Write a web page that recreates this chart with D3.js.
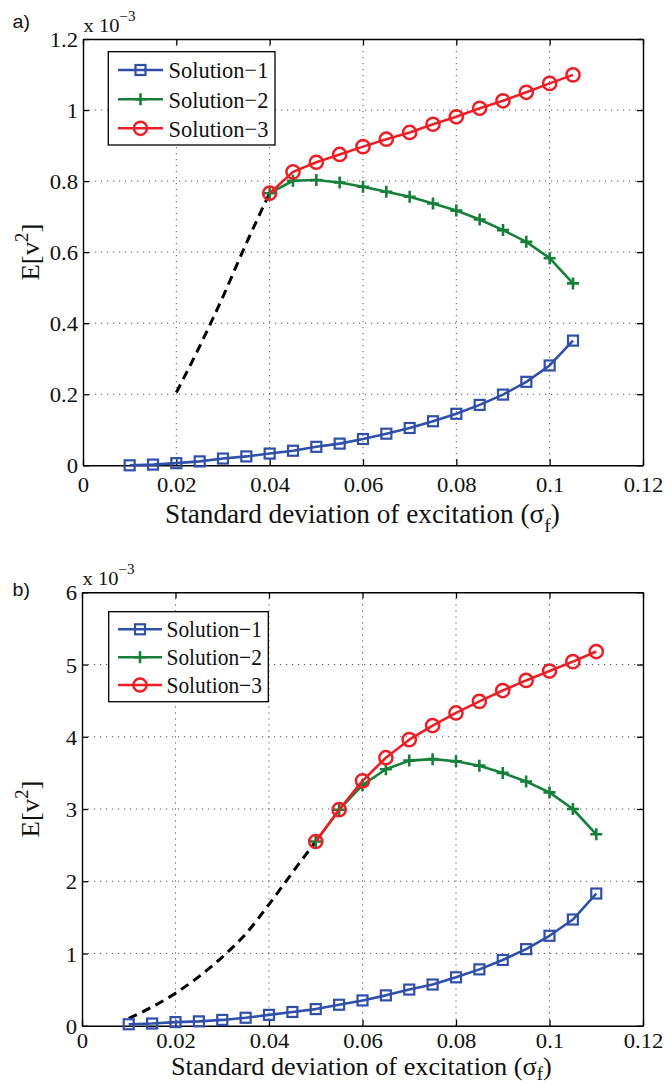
<!DOCTYPE html>
<html>
<head>
<meta charset="utf-8">
<script src="https://cdn.jsdelivr.net/npm/d3@7"></script>
<style>
  html, body { margin: 0; padding: 0; background: #fff; }
  svg { display: block; }
</style>
</head>
<body>
<svg id="fig" width="666" height="1086"></svg>
<script>
// E[v^2] values are in units of 1e-3 (shown as "x 10^-3" above each y axis).

// ---------- panel a ----------
const sigmaA1 = [0.01, 0.015, 0.02, 0.025, 0.03, 0.035, 0.04, 0.045, 0.05, 0.055,
                 0.06, 0.065, 0.07, 0.075, 0.08, 0.085, 0.09, 0.095, 0.1, 0.105];
const evA1    = [0.000, 0.002, 0.006, 0.011, 0.019, 0.025, 0.033, 0.041, 0.052, 0.061,
                 0.074, 0.089, 0.105, 0.124, 0.145, 0.170, 0.199, 0.235, 0.281, 0.351];

const sigmaA23 = [0.04, 0.045, 0.05, 0.055, 0.06, 0.065, 0.07, 0.075, 0.08, 0.085,
                  0.09, 0.095, 0.1, 0.105];
const evA2     = [0.766, 0.801, 0.803, 0.796, 0.784, 0.770, 0.756, 0.737, 0.717, 0.692,
                  0.662, 0.629, 0.583, 0.512];
const evA3     = [0.766, 0.826, 0.853, 0.875, 0.897, 0.918, 0.937, 0.960, 0.981, 1.005,
                  1.026, 1.050, 1.075, 1.099];

const sigmaADash = [0.02, 0.025, 0.03, 0.035, 0.04];
const evADash    = [0.205, 0.335, 0.475, 0.625, 0.766];

const yTicksA      = [0, 0.2, 0.4, 0.6, 0.8, 1, 1.2];
const yTickLabelsA = ["0", "0.2", "0.4", "0.6", "0.8", "1", "1.2"];

// ---------- panel b ----------
const sigmaB1 = [0.01, 0.015, 0.02, 0.025, 0.03, 0.035, 0.04, 0.045, 0.05, 0.055,
                 0.06, 0.065, 0.07, 0.075, 0.08, 0.085, 0.09, 0.095, 0.1, 0.105, 0.11];
const evB1    = [0.02, 0.03, 0.05, 0.06, 0.08, 0.11, 0.15, 0.19, 0.23, 0.29,
                 0.35, 0.42, 0.50, 0.57, 0.67, 0.78, 0.91, 1.06, 1.245, 1.47, 1.83];

const sigmaB23 = [0.05, 0.055, 0.06, 0.065, 0.07, 0.075, 0.08, 0.085, 0.09, 0.095,
                  0.1, 0.105, 0.11];
const evB2     = [2.55, 2.99, 3.33, 3.55, 3.67, 3.69, 3.66, 3.60, 3.50, 3.38,
                  3.23, 3.00, 2.65];
const evB3     = [2.55, 2.99, 3.39, 3.71, 3.96, 4.155, 4.33, 4.49, 4.64, 4.78,
                  4.91, 5.04, 5.18];

const sigmaBDash = [0.01, 0.015, 0.02, 0.025, 0.03, 0.035, 0.04, 0.045, 0.05];
const evBDash    = [0.10, 0.26, 0.45, 0.68, 0.95, 1.27, 1.68, 2.12, 2.55];

const yTicksB      = [0, 1, 2, 3, 4, 5, 6];
const yTickLabelsB = ["0", "1", "2", "3", "4", "5", "6"];

// ---------- shared ----------
const xTicks      = [0, 0.02, 0.04, 0.06, 0.08, 0.1, 0.12];
const xTickLabels = ["0", "0.02", "0.04", "0.06", "0.08", "0.1", "0.12"];
const seriesNames = ["Solution\u22121", "Solution\u22122", "Solution\u22123"];

const COLORS = { s1: "#2f4fa8", s2: "#16803b", s3: "#ec1f26", dash: "#000" };
const SERIF = '"Liberation Serif", "Times New Roman", serif';
const SANS = '"Liberation Sans", Arial, sans-serif';
const TICK_STRETCH = 1.08;

const svg = d3.select("#fig");

function zip(xs, ys) { return xs.map((x, i) => ({ x, y: ys[i] })); }

// Stretch a text horizontally (about its anchor) so it spans the given width.
function fitWidth(text, width, ax, ay) {
  const w = text.node().getBBox().width;
  const k = width / w;
  text.attr("transform", `translate(${ax},${ay}) scale(${k},1) translate(${-ax},${-ay})`);
}

function marker(g, type, color, x, y) {
  if (type === "square") {
    const s = 10;
    g.append("rect").attr("x", x - s / 2).attr("y", y - s / 2)
      .attr("width", s).attr("height", s)
      .attr("fill", "none").attr("stroke", color).attr("stroke-width", 2.2);
  } else if (type === "plus") {
    const a = 6;
    g.append("path").attr("d", `M${x - a},${y}H${x + a}M${x},${y - a}V${y + a}`)
      .attr("fill", "none").attr("stroke", color).attr("stroke-width", 2.6);
  } else {
    g.append("circle").attr("cx", x).attr("cy", y).attr("r", 6.6)
      .attr("fill", "none").attr("stroke", color).attr("stroke-width", 2.5);
  }
}

function panel(cfg) {
  const x = d3.scaleLinear().domain([0, 0.12]).range([cfg.left, cfg.right]);
  const y = d3.scaleLinear().domain(cfg.yDomain).range([cfg.bottom, cfg.top]);
  const g = svg.append("g");

  // dotted grid
  const grid = g.append("g").attr("stroke", "#555").attr("stroke-width", 1)
    .attr("stroke-dasharray", "1.2,4.8");
  xTicks.slice(1, -1).forEach(t => {
    grid.append("line").attr("x1", x(t)).attr("x2", x(t))
      .attr("y1", cfg.top).attr("y2", cfg.bottom);
  });
  cfg.yTicks.slice(1, -1).forEach(t => {
    grid.append("line").attr("y1", y(t)).attr("y2", y(t))
      .attr("x1", cfg.left).attr("x2", cfg.right);
  });

  // axes (inward ticks on all four sides)
  const tl = 6;
  const bottomAx = g.append("g").attr("transform", `translate(0,${cfg.bottom})`)
    .call(d3.axisBottom(x).tickValues(xTicks).tickSizeInner(-tl).tickSizeOuter(0)
      .tickFormat((d, i) => xTickLabels[i]));
  const topAx = g.append("g").attr("transform", `translate(0,${cfg.top})`)
    .call(d3.axisTop(x).tickValues(xTicks).tickSizeInner(-tl).tickSizeOuter(0)
      .tickFormat(""));
  const leftAx = g.append("g").attr("transform", `translate(${cfg.left},0)`)
    .call(d3.axisLeft(y).tickValues(cfg.yTicks).tickSizeInner(-tl).tickSizeOuter(0)
      .tickFormat((d, i) => cfg.yTickLabels[i]));
  const rightAx = g.append("g").attr("transform", `translate(${cfg.right},0)`)
    .call(d3.axisRight(y).tickValues(cfg.yTicks).tickSizeInner(-tl).tickSizeOuter(0)
      .tickFormat(""));
  [bottomAx, topAx, leftAx, rightAx].forEach(a => {
    a.attr("font-family", SERIF).attr("font-size", 21);
    a.select(".domain").attr("stroke", "#000").attr("stroke-width", 1.4);
    a.selectAll(".tick line").attr("stroke", "#000").attr("stroke-width", 1.3);
  });
  bottomAx.selectAll(".tick text")
    .style("font-family", SERIF).attr("fill", "#111")
    .attr("y", cfg.xTickDy).attr("dy", 0)
    .attr("transform", `scale(${TICK_STRETCH},1)`);
  leftAx.selectAll(".tick text")
    .style("font-family", SERIF).attr("fill", "#111")
    .attr("x", -4.6).attr("dy", "0.36em")
    .attr("transform", `scale(${TICK_STRETCH},1)`);

  // series
  const line = d3.line().x(d => x(d.x)).y(d => y(d.y));
  const data = g.append("g");

  data.append("path").datum(zip(cfg.dash[0], cfg.dash[1]))
    .attr("d", line.curve(d3.curveMonotoneX)).attr("fill", "none").attr("stroke", COLORS.dash)
    .attr("stroke-width", 3).attr("stroke-dasharray", "9,6");
  line.curve(d3.curveLinear);

  const series = [
    { pts: zip(cfg.s1[0], cfg.s1[1]), color: COLORS.s1, m: "square" },
    { pts: zip(cfg.s2[0], cfg.s2[1]), color: COLORS.s2, m: "plus" },
    { pts: zip(cfg.s3[0], cfg.s3[1]), color: COLORS.s3, m: "circle" }
  ];
  series.forEach(s => {
    const sg = data.append("g");
    sg.append("path").datum(s.pts).attr("d", line).attr("fill", "none")
      .attr("stroke", s.color).attr("stroke-width", 2.6).attr("stroke-linejoin", "round");
    s.pts.forEach(p => marker(sg, s.m, s.color, x(p.x), y(p.y)));
  });

  // legend
  const L = cfg.legend;
  const lg = g.append("g");
  lg.append("rect").attr("x", L.x0).attr("y", L.y0)
    .attr("width", L.x1 - L.x0).attr("height", L.y1 - L.y0)
    .attr("fill", "#fff").attr("stroke", "#000").attr("stroke-width", 1.3);
  series.forEach((s, i) => {
    const ry = L.rows[i];
    lg.append("line").attr("x1", L.lx0).attr("x2", L.lx1).attr("y1", ry).attr("y2", ry)
      .attr("stroke", s.color).attr("stroke-width", 2.6);
    marker(lg, s.m, s.color, (L.lx0 + L.lx1) / 2, ry);
    const t = lg.append("text").style("font-family", SERIF).attr("x", L.tx).attr("y", ry)
      .attr("dy", "0.35em").attr("font-size", L.fs).attr("fill", "#111")
      .text(seriesNames[i]);
    fitWidth(t, L.tw, L.tx, ry);
  });

  // exponent label above y axis
  const ex = g.append("text").style("font-family", SERIF).attr("x", cfg.left + 0.5)
    .attr("y", cfg.top - 7).attr("font-size", 19).attr("fill", "#111");
  ex.append("tspan").text("x 10");
  ex.append("tspan").attr("font-size", 14).attr("dy", -11).text("\u22123");
  fitWidth(ex, 52, cfg.left, cfg.top - 7);

  // y label (rotated)
  const cy = (cfg.top + cfg.bottom) / 2;
  const yl = g.append("text").style("font-family", SERIF)
    .attr("x", 0).attr("y", 0)
    .attr("text-anchor", "middle").attr("font-size", 26).attr("fill", "#111");
  yl.append("tspan").text("E[v");
  yl.append("tspan").attr("font-size", 18).attr("dy", -11).text("2");
  yl.append("tspan").attr("dy", 11).text("]");
  const yw = yl.node().getBBox().width;
  yl.attr("transform", `translate(39,${cy}) rotate(-90) scale(${57 / yw},1)`);

  // x label
  const xl = g.append("text").style("font-family", SERIF)
    .attr("x", cfg.xlabX).attr("y", cfg.xlabY)
    .attr("font-size", cfg.xlabFs).attr("fill", "#111");
  xl.append("tspan").text("Standard deviation of excitation (\u03c3");
  xl.append("tspan").attr("font-size", cfg.xlabFs * 0.72).attr("dy", cfg.subDy).text("f");
  xl.append("tspan").attr("dy", -cfg.subDy).text(")");
  fitWidth(xl, cfg.xlabW, cfg.xlabX, cfg.xlabY);

  // panel letter
  const pl = g.append("text").style("font-family", SANS).attr("x", 12.5).attr("y", cfg.letterY)
    .attr("font-size", 19).attr("fill", "#111").text(cfg.letter);
  fitWidth(pl, 17.5, 12.5, cfg.letterY);
}

panel({
  letter: "a)", letterY: 28,
  left: 83, right: 643, top: 39, bottom: 465.3,
  yDomain: [0, 1.2], yTicks: yTicksA, yTickLabels: yTickLabelsA,
  xTickDy: 26.5,
  s1: [sigmaA1, evA1], s2: [sigmaA23, evA2], s3: [sigmaA23, evA3],
  dash: [sigmaADash, evADash],
  legend: { x0: 108.3, y0: 51.7, x1: 275, y1: 145, rows: [70, 99.3, 128.3],
            lx0: 118, lx1: 163, tx: 168.5, fs: 24, tw: 100 },
  xlabX: 165, xlabY: 523, xlabFs: 27, xlabW: 395, subDy: 9
});

panel({
  letter: "b)", letterY: 596,
  left: 82, right: 643, top: 592.3, bottom: 1025.7,
  yDomain: [0, 6], yTicks: yTicksB, yTickLabels: yTickLabelsB,
  xTickDy: 22.5,
  s1: [sigmaB1, evB1], s2: [sigmaB23, evB2], s3: [sigmaB23, evB3],
  dash: [sigmaBDash, evBDash],
  legend: { x0: 108.7, y0: 611.7, x1: 268.3, y1: 701.7, rows: [629.3, 657.3, 685],
            lx0: 118, lx1: 162, tx: 166.5, fs: 23, tw: 95.5 },
  xlabX: 171, xlabY: 1075, xlabFs: 26, xlabW: 381, subDy: 5.5
});
</script>
</body>
</html>
